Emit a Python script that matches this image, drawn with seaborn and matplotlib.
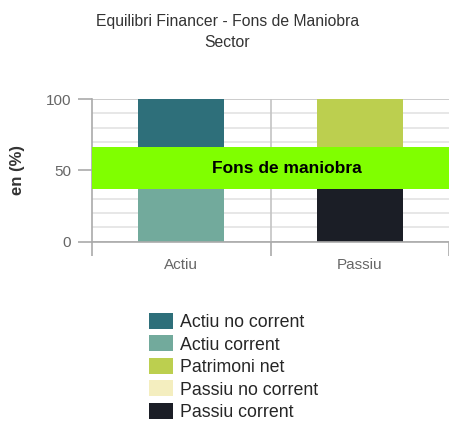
import matplotlib
matplotlib.use("Agg")
import matplotlib.pyplot as plt
from matplotlib.patches import Patch
import seaborn as sns
import pandas as pd

# categories and stacked components (in % of total)
sides = ["Actiu", "Passiu"]
actiu_labels = ["Actiu corrent", "Actiu no corrent"]
actiu_values = [66.4, 33.6]
passiu_labels = ["Passiu corrent", "Passiu no corrent", "Patrimoni net"]
passiu_values = [36.7, 12.0, 51.3]

legend_order = ["Actiu no corrent", "Actiu corrent", "Patrimoni net",
                "Passiu no corrent", "Passiu corrent"]
colors = {
    "Actiu no corrent": "#2e6f7a",
    "Actiu corrent": "#72aa9c",
    "Patrimoni net": "#bccf4f",
    "Passiu no corrent": "#f4eebf",
    "Passiu corrent": "#1b1e26",
}
band_label = "Fons de maniobra"

sns.set_theme(style="white")
plt.rcParams["font.family"] = ["Liberation Sans", "DejaVu Sans"]

# build long table with cumulative tops
rows = []
for side, labels, values in [("Actiu", actiu_labels, actiu_values),
                             ("Passiu", passiu_labels, passiu_values)]:
    top = 0
    for lab, val in zip(labels, values):
        top += val
        rows.append({"side": side, "component": lab, "value": val, "top": top})
df = pd.DataFrame(rows)

fig = plt.figure(figsize=(4.49, 4.21), dpi=100)
ax = fig.add_axes([0.2049, 0.4259, 0.7951, 0.3389])

# overlay cumulative bars, tallest first
for _, r in df.sort_values("top", ascending=False).iterrows():
    sns.barplot(x=[r["side"]], y=[r["top"]], order=sides, color=colors[r["component"]],
                saturation=1, width=0.48, errorbar=None, ax=ax, zorder=2,
                linewidth=0, edgecolor="none")

# fons de maniobra band: between passiu corrent and actiu corrent
low = df.loc[df.component == "Passiu corrent", "top"].iloc[0]
high = df.loc[df.component == "Actiu corrent", "top"].iloc[0]
ax.axhspan(low, high, color="#80ff00", zorder=3, lw=0)
ax.text(0.59, (low + high) / 2, band_label, ha="center", va="center",
        fontsize=12.5, fontweight="bold", color="black", zorder=4)

ax.set_xlim(-0.5, 1.5)
ax.set_ylim(0, 100)
ax.set_yticks([0, 50, 100])
ax.set_yticks(range(0, 101, 10), minor=True)
ax.set_xticks([-0.5, 0.5, 1.5], minor=True)
ax.grid(True, which="minor", axis="y", color="#e3e3e3", lw=1.2)
ax.grid(True, which="major", axis="y", color="#c4c4c4", lw=1.2)
ax.axvline(0.5, color="#c4c4c4", lw=1.2, zorder=1)
ax.set_axisbelow(True)

ax.tick_params(axis="y", which="major", length=10, width=1.2, color="#aaaaaa",
               pad=5, labelsize=11, labelcolor="#666666", left=True)
ax.tick_params(axis="y", which="minor", length=0)
ax.tick_params(axis="x", which="major", length=0, pad=12, labelsize=11,
               labelcolor="#666666")
ax.tick_params(axis="x", which="minor", length=10, width=1.2, color="#aaaaaa",
               bottom=True)

for s in ["top", "right"]:
    ax.spines[s].set_visible(False)
for s in ["left", "bottom"]:
    ax.spines[s].set_color("#aaaaaa")
    ax.spines[s].set_linewidth(1.2)

ax.set_xlabel("")
ax.set_ylabel("en (%)", fontsize=12, fontweight="bold", color="#333333")
ax.yaxis.set_label_coords(-0.188, 0.5)

fig.text(0.506, 1 - 21.7 / 421, "Equilibri Financer - Fons de Maniobra",
         ha="center", va="center", fontsize=11.3, color="#333333")
fig.text(0.506, 1 - 42.7 / 421, "Sector",
         ha="center", va="center", fontsize=11.3, color="#333333")

handles = [Patch(facecolor=colors[l], edgecolor="none", label=l) for l in legend_order]
fig.legend(handles=handles, loc="upper left", bbox_to_anchor=(149 / 449, 1 - 313 / 421),
           frameon=False, fontsize=12.8, handlelength=1.35, handleheight=1.0,
           handletextpad=0.4, labelspacing=0.25, borderpad=0, borderaxespad=0)

fig.savefig("out.png", dpi=100)
